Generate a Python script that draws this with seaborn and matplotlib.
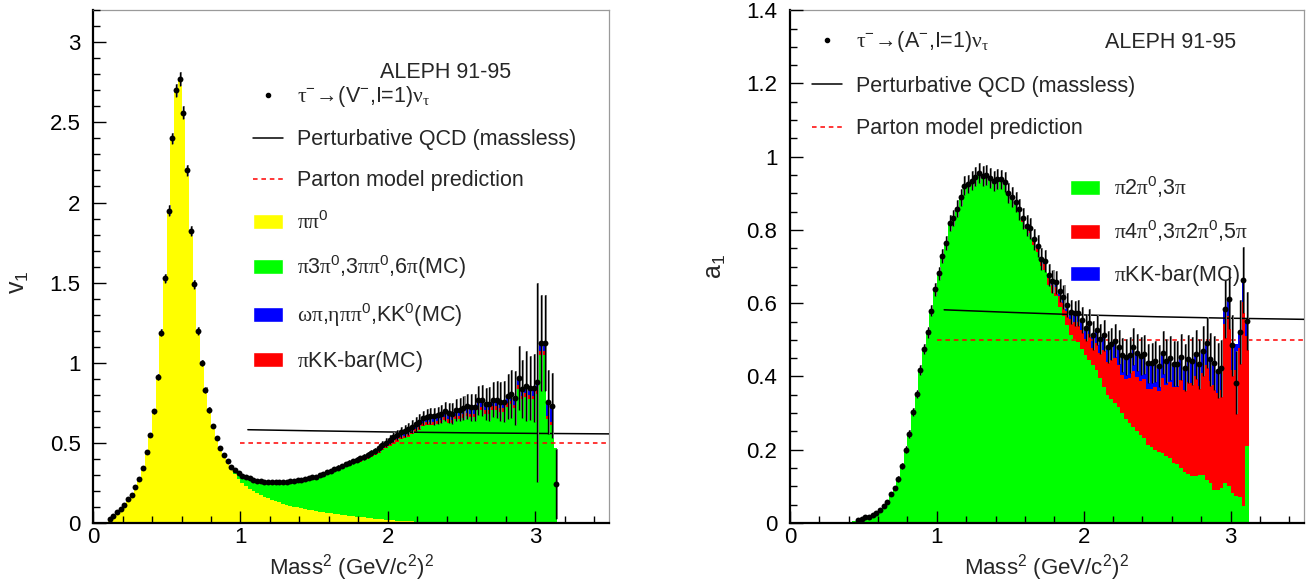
import numpy as np
import pandas as pd
import matplotlib
matplotlib.use("Agg")
import matplotlib.pyplot as plt
from matplotlib.lines import Line2D
from matplotlib.patches import Patch
from matplotlib.ticker import MultipleLocator, FormatStrFormatter
import seaborn as sns

sns.set_style("white")
plt.rcParams['font.family'] = ['Liberation Sans', 'DejaVu Sans']
plt.rcParams['mathtext.fontset'] = 'custom'
plt.rcParams['mathtext.rm'] = 'Liberation Sans'
plt.rcParams['mathtext.it'] = 'Liberation Sans:italic'
plt.rcParams['mathtext.sf'] = 'Liberation Serif'

nan = np.nan
bin_w = 0.025

# ---- vector spectral function v1 (bins start at 0.075) ----
v_start = 0.075
v_data = [nan, 0.025, 0.046, 0.067, 0.087, 0.114, 0.148, 0.177, 0.225, 0.274,
          0.345, 0.443, 0.549, 0.696, 0.913, 1.187, 1.526, 1.950,
          2.400, 2.700, 2.770, 2.560, 2.200,
          1.820, 1.490, 1.200, 1.000, 0.830, 0.705, 0.605, 0.532, 0.466,
          0.424, 0.387, 0.351, 0.333, 0.310,
          0.296, 0.288, 0.278, 0.270, 0.263, 0.259, 0.256, 0.254, 0.253, 0.254,
          0.255, 0.257, 0.258, 0.261, 0.263, 0.266, 0.270, 0.274, 0.279, 0.285,
          0.290, 0.298, 0.307, 0.316, 0.326, 0.335, 0.346, 0.358, 0.367, 0.376,
          0.386, 0.394, 0.403, 0.413, 0.424, 0.435, 0.450, 0.468, 0.486, 0.502,
          0.520, 0.535, 0.550, 0.565, 0.573, 0.585, 0.602, 0.619, 0.633, 0.655,
          0.663, 0.665, 0.665, 0.671, 0.681, 0.698, 0.685, 0.681, 0.706, 0.706,
          0.717, 0.727, 0.721, 0.721, 0.765, 0.765, 0.744, 0.744, 0.769, 0.769,
          0.758, 0.758, 0.790, 0.806, 0.781, 0.904, 0.838, 0.856, 0.842, 0.842,
          0.877, 1.123, 1.123, 0.756, 0.733, 0.244]
v_err = [nan, 0.004, 0.004, 0.005, 0.005, 0.005, 0.006, 0.006, 0.007, 0.008,
         0.008, 0.010, 0.012, 0.014, 0.018, 0.022, 0.026, 0.032,
         0.036, 0.040, 0.045, 0.040, 0.036,
         0.032, 0.028, 0.024, 0.020, 0.018, 0.016, 0.014, 0.012, 0.011,
         0.010, 0.010, 0.009, 0.009, 0.009,
         0.008, 0.008, 0.008, 0.008, 0.008, 0.008, 0.008, 0.008, 0.008, 0.008,
         0.009, 0.009, 0.009, 0.009, 0.009, 0.009, 0.009, 0.009, 0.009, 0.009,
         0.010, 0.010, 0.011, 0.011, 0.012, 0.012, 0.013, 0.013, 0.014, 0.014,
         0.015, 0.016, 0.017, 0.018, 0.019, 0.020, 0.021, 0.022, 0.024, 0.026,
         0.028, 0.030, 0.032, 0.034, 0.036, 0.038, 0.040, 0.042, 0.044, 0.046,
         0.048, 0.050, 0.052, 0.055, 0.058, 0.060, 0.063, 0.066, 0.069, 0.072,
         0.075, 0.078, 0.082, 0.086, 0.090, 0.095, 0.100, 0.105, 0.110, 0.115,
         0.120, 0.130, 0.140, 0.150, 0.170, 0.200, 0.180, 0.220, 0.200, 0.210,
         0.620, 0.300, 0.300, 0.200, 0.200, 0.220]
v_pipi0 = [0.006, 0.025, 0.046, 0.067, 0.087, 0.114, 0.148, 0.177, 0.225, 0.274,
           0.345, 0.443, 0.549, 0.696, 0.913, 1.187, 1.526, 1.950,
           2.400, 2.700, 2.770, 2.560, 2.200,
           1.820, 1.490, 1.200, 1.000, 0.830, 0.705, 0.605, 0.530, 0.462,
           0.418, 0.375, 0.338, 0.305, 0.277,
           0.250, 0.232, 0.215, 0.200, 0.188, 0.176, 0.165, 0.153, 0.143, 0.135,
           0.128, 0.121, 0.114, 0.108, 0.102, 0.097, 0.092, 0.088, 0.083, 0.079,
           0.075, 0.071, 0.067, 0.063, 0.060, 0.057, 0.054, 0.051, 0.048, 0.045,
           0.043, 0.040, 0.037, 0.035, 0.032, 0.030, 0.027, 0.025, 0.022, 0.020,
           0.018, 0.016, 0.015, 0.014, 0.012, 0.011, 0.010, 0.009, 0.008, 0.007,
           0.007, 0.006, 0.005, 0.005, 0.004, 0.004, 0.003, 0.003, 0.003, 0.002,
           0.002, 0.002, 0.002, 0.001, 0.001, 0.001, 0.001, 0.001, 0.001, 0.0,
           0, 0, 0, 0, 0, 0, 0, 0, 0, 0, 0, 0, 0, 0, 0, 0]
v_4pi = [0] * 30 + [0.002, 0.004, 0.004, 0.010, 0.010, 0.025, 0.030,
         0.041, 0.051, 0.058, 0.064, 0.069, 0.077, 0.085, 0.095, 0.103, 0.112,
         0.120, 0.129, 0.137, 0.145, 0.153, 0.161, 0.169, 0.176, 0.186, 0.196,
         0.204, 0.216, 0.228, 0.240, 0.252, 0.264, 0.276, 0.291, 0.302, 0.313,
         0.324, 0.335, 0.345, 0.356, 0.368, 0.380, 0.396, 0.413, 0.431, 0.446,
         0.464, 0.479, 0.493, 0.508, 0.516, 0.528, 0.544, 0.561, 0.574, 0.596,
         0.603, 0.605, 0.605, 0.611, 0.621, 0.637, 0.624, 0.620, 0.645, 0.645,
         0.656, 0.665, 0.659, 0.660, 0.702, 0.702, 0.681, 0.680, 0.705, 0.706,
         0.694, 0.694, 0.726, 0.740, 0.715, 0.837, 0.771, 0.788, 0.774, 0.773,
         0.807, 1.051, 1.051, 0.646, 0.613, 0.470]
v_kkpi = [0] * 32 + [0.001] * 5 + [0.002] * 16 + [0.003] * 7 + [0.004] * 3 + \
         [0.005] * 3 + [0.006] * 3 + [0.007, 0.007, 0.008, 0.008,
         0.009, 0.010, 0.011, 0.012, 0.013, 0.014, 0.015, 0.015, 0.016, 0.016,
         0.017, 0.017, 0.018, 0.018, 0.018, 0.019, 0.019, 0.019, 0.019] + \
         [0.020] * 9 + [0.021] * 9 + [0.022] * 10 + [0.020, 0.020, 0.0]
v_omega = [0] * 32 + [0.001, 0.001, 0.002, 0.002, 0.002] + \
          [0.003] * 3 + [0.004] * 5 + [0.005] * 5 + [0.006] * 4 + [0.007] * 3 + \
          [0.008] * 2 + [0.009] * 2 + [0.010] * 2 + [0.011] * 2 + [0.012] * 2 + \
          [0.013] * 2 + [0.014, 0.015, 0.016, 0.017, 0.018, 0.020, 0.022, 0.024,
          0.025, 0.026, 0.027, 0.028, 0.029, 0.030, 0.031, 0.032, 0.033, 0.034,
          0.035, 0.035, 0.036, 0.036, 0.037, 0.037, 0.038, 0.038, 0.038, 0.039,
          0.039, 0.040, 0.040, 0.040, 0.041, 0.041, 0.041, 0.042, 0.042, 0.042,
          0.043, 0.043, 0.043, 0.044, 0.044, 0.045, 0.045, 0.046, 0.046, 0.047,
          0.048, 0.050, 0.050, 0.090, 0.100, 0.0]

# ---- axial-vector spectral function a1 (bins start at 0.3) ----
a_start = 0.3
a_data = [nan] * 6 + [
    0.008, 0.012, 0.015, 0.017, 0.023, 0.028, 0.036, 0.047, 0.058, 0.078,
    0.096, 0.120, 0.156, 0.200, 0.243, 0.304, 0.352, 0.417, 0.474, 0.521,
    0.580, 0.638, 0.682, 0.730, 0.764, 0.819, 0.832, 0.858, 0.889, 0.921,
    0.925, 0.934, 0.945, 0.956, 0.947, 0.951, 0.942, 0.933, 0.940, 0.938,
    0.930, 0.901, 0.889, 0.876, 0.856, 0.832, 0.812, 0.805, 0.775, 0.757,
    0.722, 0.716, 0.677, 0.660, 0.657, 0.634, 0.616, 0.596, 0.576, 0.572,
    0.573,
    0.554, 0.533, 0.547, 0.512, 0.527, 0.501, 0.512, 0.481, 0.488, 0.497,
    0.481, 0.458, 0.453, 0.458, 0.481, 0.465, 0.456, 0.460, 0.436, 0.436,
    0.442, 0.428, 0.465, 0.442, 0.451, 0.435, 0.435, 0.453, 0.424, 0.447,
    0.442, 0.460, 0.433, 0.469, 0.492, 0.447, 0.437, 0.416, 0.422, 0.584,
    0.611, 0.485, 0.383, 0.521, 0.664, 0.552]
a_err = [nan] * 6 + [
    0.002, 0.002, 0.003, 0.003, 0.003, 0.003, 0.004, 0.004, 0.005,
    0.005, 0.006, 0.007, 0.008, 0.009, 0.010, 0.011, 0.012, 0.013, 0.014, 0.015, 0.016,
    0.017, 0.018, 0.019, 0.020, 0.021, 0.022, 0.023, 0.024, 0.025, 0.025, 0.026,
    0.026, 0.027, 0.027, 0.027, 0.027, 0.027, 0.027, 0.027, 0.027, 0.027,
    0.027, 0.027, 0.028, 0.028, 0.028, 0.029, 0.029, 0.030, 0.030, 0.030,
    0.031, 0.031, 0.032, 0.032, 0.033, 0.033, 0.034, 0.035, 0.036,
    0.036, 0.037, 0.038, 0.039, 0.040, 0.041, 0.042, 0.043, 0.044, 0.045,
    0.046, 0.047, 0.048, 0.049, 0.050, 0.051, 0.052, 0.053, 0.054, 0.055,
    0.056, 0.057, 0.058, 0.059, 0.060, 0.061, 0.062, 0.063, 0.064, 0.065,
    0.066, 0.067, 0.068, 0.069, 0.070, 0.072, 0.074, 0.076, 0.078, 0.080,
    0.082, 0.084, 0.086, 0.088, 0.090, 0.080]
a_3pi = [0.002, 0.003, 0.003, 0.003, 0.004, 0.005,
         0.008, 0.012, 0.015, 0.017, 0.023, 0.028, 0.036, 0.047, 0.058, 0.078,
         0.096, 0.120, 0.156, 0.200, 0.243, 0.304, 0.352, 0.417, 0.474, 0.521,
         0.580, 0.638, 0.682, 0.730, 0.764, 0.819, 0.832, 0.858, 0.889, 0.921,
         0.925, 0.934, 0.945, 0.956, 0.947, 0.951, 0.942, 0.933, 0.940, 0.938,
         0.930, 0.901, 0.889,
         0.870, 0.849, 0.823, 0.802, 0.792, 0.760, 0.739, 0.701, 0.692, 0.649,
         0.628, 0.619, 0.590, 0.566, 0.540, 0.514, 0.502, 0.493,
         0.475, 0.458, 0.445, 0.432, 0.418, 0.395, 0.372, 0.350, 0.338, 0.328,
         0.318, 0.300, 0.285, 0.272, 0.262, 0.250, 0.240, 0.232, 0.212, 0.208,
         0.198, 0.195, 0.190, 0.182, 0.178, 0.165, 0.160, 0.150, 0.138, 0.135,
         0.127, 0.128, 0.132, 0.130, 0.118, 0.108, 0.090, 0.090, 0.095, 0.109,
         0.100, 0.081, 0.075, 0.070, 0.045, 0.209]
a_5pi = [0] * 49 + [
    0.003, 0.004, 0.005, 0.006, 0.008, 0.010, 0.012, 0.014, 0.016, 0.019,
    0.022, 0.026, 0.030, 0.034, 0.038, 0.042, 0.048, 0.056,
    0.051, 0.045, 0.070, 0.046, 0.073, 0.068, 0.100, 0.089, 0.106, 0.123,
    0.113, 0.103, 0.108, 0.124, 0.154, 0.149, 0.148, 0.160, 0.154, 0.158,
    0.174, 0.165, 0.207, 0.194, 0.207, 0.206, 0.211, 0.241, 0.224, 0.250,
    0.255, 0.272, 0.241, 0.279, 0.314, 0.279, 0.287, 0.266, 0.267, 0.435,
    0.466, 0.338, 0.344, 0.408, 0.557, 0.301]
a_kkpi = [0] * 49 + [
    0.003, 0.003, 0.004, 0.004, 0.005, 0.005, 0.006, 0.007, 0.008, 0.009,
    0.010, 0.012, 0.014, 0.016, 0.018, 0.020, 0.022, 0.024,
    0.028, 0.030, 0.032, 0.034, 0.036, 0.038, 0.040, 0.042, 0.044, 0.046,
    0.050, 0.055, 0.060, 0.062, 0.065, 0.066, 0.068, 0.068, 0.070, 0.070,
    0.070, 0.068, 0.068, 0.066, 0.066, 0.064, 0.064, 0.062, 0.062, 0.062,
    0.060, 0.060, 0.060, 0.060, 0.060, 0.060, 0.060, 0.060, 0.060, 0.040,
    0.045, 0.065, 0.069, 0.043, 0.062, 0.042]

# perturbative QCD (massless) and parton model lines
qcd_s = [1.05, 1.5, 2.0, 2.5, 3.0, 3.5]
qcd_val = [0.582, 0.575, 0.568, 0.563, 0.559, 0.556]
parton_s = [1.0, 3.5]
parton_val = [0.5, 0.5]

YELLOW, GREEN, BLUE, RED = '#ffff00', '#00ff00', '#0000ff', '#ff0000'


def draw_panel(ax, start, comps, data, err):
    # comps: list of (name, values, colour), bottom -> top
    n = len(data)
    edges = start + bin_w * np.arange(n + 1)
    centers = edges[:-1] + bin_w / 2
    df = pd.concat([pd.DataFrame({'mass2': centers, 'w': vals, 'comp': name})
                    for name, vals, _ in comps])
    pal = {name: col for name, _, col in comps}
    # seaborn puts the first hue level on top of the stack
    sns.histplot(data=df, x='mass2', weights='w', hue='comp',
                 hue_order=[c[0] for c in comps][::-1], palette=pal,
                 bins=edges.tolist(), multiple='stack', element='step', fill=True,
                 alpha=1, linewidth=0, legend=False, ax=ax)
    ax.plot(qcd_s, qcd_val, color='k', lw=1.1, zorder=3)
    ax.plot(parton_s, parton_val, color='red', lw=1.1, ls=(0, (3, 2.5)), zorder=3)
    ax.errorbar(centers + 0.007, data, yerr=err, fmt='none', ecolor='#8a8a8a',
                elinewidth=1.4, zorder=4)
    ax.errorbar(centers, data, yerr=err, fmt='none', ecolor='k',
                elinewidth=1.0, zorder=5)
    sns.scatterplot(x=centers, y=data, color='k', s=18, linewidth=0,
                    zorder=6, ax=ax)


def style_axes(ax, ymax, ymaj, ymin_, ylab):
    ax.set_xlim(0, 3.5)
    ax.set_ylim(0, ymax)
    ax.xaxis.set_major_locator(MultipleLocator(1))
    ax.xaxis.set_minor_locator(MultipleLocator(0.2))
    ax.yaxis.set_major_locator(MultipleLocator(ymaj))
    ax.yaxis.set_minor_locator(MultipleLocator(ymin_))
    ax.xaxis.set_major_formatter(FormatStrFormatter('%g'))
    ax.yaxis.set_major_formatter(FormatStrFormatter('%g'))
    ax.tick_params(which='both', direction='in', bottom=True, left=True,
                   top=False, right=False, labelsize=16, colors='k')
    ax.tick_params(which='major', length=9, width=1.0)
    ax.tick_params(axis='y', which='major', pad=9)
    ax.tick_params(axis='x', which='major', pad=3)
    ax.tick_params(which='minor', length=5, width=1.0)
    for s in ('left', 'bottom'):
        ax.spines[s].set_color('k')
        ax.spines[s].set_linewidth(1.6)
    for s in ('top', 'right'):
        ax.spines[s].set_color('#9a9a9a')
        ax.spines[s].set_linewidth(0.9)
    ax.set_xlabel(r"Mass$^2$ (GeV/c$^2$)$^2$", fontsize=16)
    ax.xaxis.set_label_coords(0.5, -0.056)
    ax.set_ylabel(ylab, fontsize=18)
    ax.set_axisbelow(False)


fig = plt.figure(figsize=(13.07, 5.84), dpi=100)
ax1 = fig.add_axes([0.0712, 0.1045, 0.3948, 0.878])
ax2 = fig.add_axes([0.6044, 0.1045, 0.3933, 0.878])

draw_panel(ax1, v_start,
           [('pipi0', v_pipi0, YELLOW), ('4pi', v_4pi, GREEN),
            ('kkpi', v_kkpi, RED), ('omegapi', v_omega, BLUE)],
           v_data, v_err)
style_axes(ax1, 3.2, 0.5, 0.1, r"v$_1$")
ax1.yaxis.set_label_coords(-0.12, 0.47)

draw_panel(ax2, a_start,
           [('3pi', a_3pi, GREEN), ('5pi', a_5pi, RED), ('kkpi', a_kkpi, BLUE)],
           a_data, a_err)
style_axes(ax2, 1.4, 0.2, 0.05, r"a$_1$")
ax2.yaxis.set_label_coords(-0.12, 0.5)

dot = Line2D([], [], ls='none', marker='o', ms=3, color='k')
qline = Line2D([], [], color='k', lw=1.1)
pline = Line2D([], [], color='red', lw=1.1, ls=(0, (3, 2.5)))
leg_kw = dict(frameon=False, fontsize=15.5, handlelength=1.4,
              handletextpad=0.65, borderaxespad=0, loc='upper left')

ax1.legend([dot, qline, pline, Patch(fc=YELLOW), Patch(fc=GREEN),
            Patch(fc=BLUE), Patch(fc=RED)],
           [r"$\mathsf{τ}^{-}\!\rightarrow\!$(V$^{-}$,I=1)$\mathsf{ν}_{\mathsf{τ}}$",
            "Perturbative QCD (massless)", "Parton model prediction",
            r"$\mathsf{ππ}^{0}$",
            r"$\mathsf{π}3\mathsf{π}^{0}$,3$\mathsf{ππ}^{0}$,6$\mathsf{π}$(MC)",
            r"$\mathsf{ωπ}$,$\mathsf{ηππ}^{0}$,KK$^{0}$(MC)",
            r"$\mathsf{π}$KK-bar(MC)"],
           bbox_to_anchor=(0.293, 0.872), labelspacing=0.92, **leg_kw)
ax1.text(0.556, 0.879, "ALEPH 91-95", transform=ax1.transAxes,
         fontsize=15.5, va='center')

leg_a = ax2.legend([dot, qline, pline],
                   [r"$\mathsf{τ}^{-}\!\rightarrow\!$(A$^{-}$,I=1)$\mathsf{ν}_{\mathsf{τ}}$",
                    "Perturbative QCD (massless)", "Parton model prediction"],
                   bbox_to_anchor=(0.026, 0.98), labelspacing=1.0, **leg_kw)
ax2.add_artist(leg_a)
ax2.legend([Patch(fc=GREEN), Patch(fc=RED), Patch(fc=BLUE)],
           [r"$\mathsf{π}2\mathsf{π}^{0}$,3$\mathsf{π}$",
            r"$\mathsf{π}4\mathsf{π}^{0}$,3$\mathsf{π}2\mathsf{π}^{0}$,5$\mathsf{π}$",
            r"$\mathsf{π}$KK-bar(MC)"],
           bbox_to_anchor=(0.528, 0.697), labelspacing=0.85, **leg_kw)
ax2.text(0.613, 0.9376, "ALEPH 91-95", transform=ax2.transAxes,
         fontsize=15.5, va='center')

fig.savefig("out.png", dpi=100)
